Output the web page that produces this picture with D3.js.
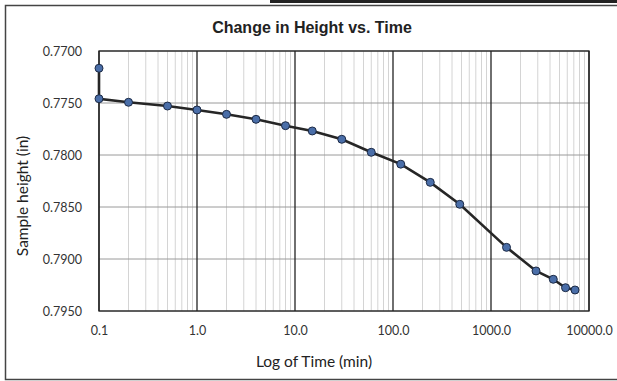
<!DOCTYPE html>
<html>
<head>
<meta charset="utf-8">
<script src="https://cdn.jsdelivr.net/npm/d3@7"></script>
<style>
  body { margin: 0; background: #fff; }
  svg text { font-family: "Lato", "Open Sans", sans-serif; }
</style>
</head>
<body>
<div id="chart"></div>
<script>
// readings taken off the plot
const times = [0.1, 0.1, 0.2, 0.5, 1, 2, 4, 8, 15, 30, 60, 120, 240, 480, 1440, 2880, 4320, 5760, 7200];
const heights = [0.77166, 0.77459, 0.77493, 0.77529, 0.77567, 0.77609, 0.77657, 0.77718, 0.77769, 0.77849,
    0.77974, 0.78088, 0.78263, 0.78474, 0.78888, 0.79115, 0.79195, 0.79276, 0.79298];
const yTicks = [0.7700, 0.7750, 0.7800, 0.7850, 0.7900, 0.7950];
const xTicks = [0.1, 1, 10, 100, 1000, 10000];

const data = times.map((t, i) => ({ t, h: heights[i] }));

const width = 617, height = 381;
const margin = { top: 51, right: 28, bottom: 70, left: 99 };

const svg = d3.select("#chart").append("svg")
    .attr("width", width).attr("height", height);

// outer frame (scanned page)
svg.append("rect")
    .attr("x", 5.5).attr("y", 5.5)
    .attr("width", 640).attr("height", 374)
    .attr("fill", "none").attr("stroke", "#444").attr("stroke-width", 1.5);
svg.append("line")
    .attr("x1", 270).attr("x2", 617).attr("y1", 1.5).attr("y2", 1.5)
    .attr("stroke", "#222").attr("stroke-width", 3);

const x = d3.scaleLog()
    .domain([0.1, 10000])
    .range([margin.left, width - margin.right]);

const y = d3.scaleLinear()
    .domain([0.77, 0.795])
    .range([margin.top, height - margin.bottom]);

// minor log grid
const minor = [];
for (let p = -1; p < 4; p++) {
    for (let k = 2; k <= 9; k++) minor.push(k * Math.pow(10, p));
}
svg.append("g")
    .selectAll("line")
    .data(minor)
    .enter().append("line")
    .attr("x1", d => x(d)).attr("x2", d => x(d))
    .attr("y1", margin.top).attr("y2", height - margin.bottom)
    .attr("stroke", "#d4d4d4").attr("stroke-width", 1);

// horizontal grid
svg.append("g")
    .selectAll("line")
    .data(yTicks)
    .enter().append("line")
    .attr("x1", margin.left).attr("x2", width - margin.right)
    .attr("y1", d => y(d)).attr("y2", d => y(d))
    .attr("stroke", "#9a9a9a").attr("stroke-width", 1);

// major decade lines
svg.append("g")
    .selectAll("line")
    .data(xTicks)
    .enter().append("line")
    .attr("x1", d => x(d)).attr("x2", d => x(d))
    .attr("y1", margin.top).attr("y2", height - margin.bottom)
    .attr("stroke", "#222").attr("stroke-width", 1.3);

svg.append("rect")
    .attr("x", margin.left).attr("y", margin.top)
    .attr("width", width - margin.left - margin.right)
    .attr("height", height - margin.top - margin.bottom)
    .attr("fill", "none").attr("stroke", "#222").attr("stroke-width", 1.3);

// axes (labels only)
const yAxis = svg.append("g")
    .attr("transform", `translate(${margin.left - 14},0)`)
    .call(d3.axisLeft(y).tickValues(yTicks).tickFormat(d3.format(".4f")).tickSize(0));
yAxis.select(".domain").remove();
yAxis.selectAll("text").attr("font-size", 12.5).attr("fill", "#333")
    .style("font-family", "Lato, 'Open Sans', sans-serif");

const xAxis = svg.append("g")
    .attr("transform", `translate(0,${height - margin.bottom + 12})`)
    .call(d3.axisBottom(x).tickValues(xTicks).tickFormat(d3.format(".1f")).tickSize(0));
xAxis.select(".domain").remove();
xAxis.selectAll("text").attr("font-size", 12.5).attr("fill", "#333")
    .style("font-family", "Lato, 'Open Sans', sans-serif");

// line and markers
svg.append("path")
    .datum(data)
    .attr("d", d3.line().x(d => x(d.t)).y(d => y(d.h)))
    .attr("fill", "none")
    .attr("stroke", "#262626")
    .attr("stroke-width", 2.6);

svg.append("g")
    .selectAll("circle")
    .data(data)
    .enter().append("circle")
    .attr("cx", d => x(d.t))
    .attr("cy", d => y(d.h))
    .attr("r", 4)
    .attr("fill", "#4a6ea8")
    .attr("stroke", "#1c2a45")
    .attr("stroke-width", 1);

// titles
svg.append("text")
    .attr("x", 312).attr("y", 33)
    .attr("text-anchor", "middle")
    .attr("font-size", 16).attr("font-weight", "bold")
    .style("font-family", "'Liberation Sans', Arial, sans-serif")
    .attr("fill", "#222")
    .text("Change in Height vs. Time");

svg.append("text")
    .attr("x", 314).attr("y", 367)
    .attr("text-anchor", "middle")
    .attr("font-size", 15.5).attr("fill", "#222")
    .text("Log of Time (min)");

svg.append("text")
    .attr("transform", "translate(28,196) rotate(-90)")
    .attr("text-anchor", "middle")
    .attr("font-size", 15.5).attr("fill", "#222")
    .text("Sample height (in)");
</script>
</body>
</html>
